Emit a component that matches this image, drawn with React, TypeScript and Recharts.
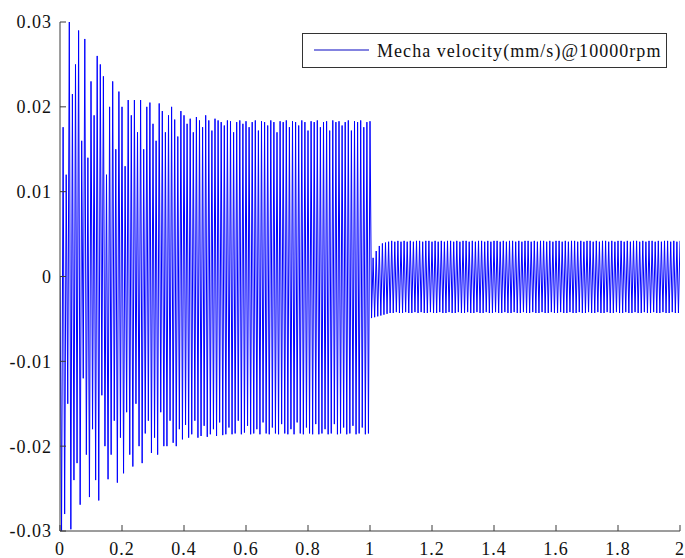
import React from "react";
import { LineChart, Line, XAxis, YAxis, Legend } from "recharts";

// Sample spacing of the recorded signal (s)
const SAMPLE_STEP = 0.005;

// Velocity samples, 0 .. 1.00 s (run-up / loaded section)
const velocityRunUp = [
  0,
  -0.03, 0.0176, -0.028, 0.012, -0.015, 0.03, -0.0298, 0.0215, -0.024, 0.025,
  -0.022, 0.029, -0.0269, 0.016, -0.012, 0.028, -0.021, 0.014, -0.026, 0.023,
  -0.018, 0.019, -0.024, 0.026, -0.0264, 0.025, -0.014, 0.0236, -0.02, 0.012,
  -0.0239, 0.02, -0.021, 0.023, -0.017, 0.015, -0.0243, 0.0218, -0.019, 0.02,
  -0.0232, 0.013, -0.016, 0.0208, -0.021, 0.019, -0.0224, 0.0208, -0.015, 0.017,
  -0.02, 0.0208, -0.022, 0.015, -0.0185, 0.02, -0.017, 0.0205, -0.0208, 0.018,
  -0.019, 0.016, -0.021, 0.0204, -0.016, 0.0195, -0.02, 0.017, -0.02, 0.019,
  -0.017, 0.02, -0.0196, 0.0185, -0.02, 0.0165, -0.018, 0.0195, -0.0192, 0.019,
  -0.0175, 0.018, -0.019, 0.0186, -0.0186, 0.017, -0.017, 0.0188, -0.019, 0.0184,
  -0.0188, 0.0176, -0.0176, 0.019, -0.0189, 0.0184, -0.0186, 0.0172, -0.018, 0.0186,
  -0.0188, 0.0184, -0.0172, 0.0182, -0.0187, 0.0178, -0.0186, 0.0184, -0.0178, 0.0183,
  -0.0186, 0.017, -0.0185, 0.0182, -0.017, 0.0184, -0.0186, 0.018, -0.0184, 0.0183,
  -0.0176, 0.0176, -0.0186, 0.0182, -0.0185, 0.0184, -0.018, 0.0172, -0.0186, 0.0183,
  -0.0172, 0.0182, -0.0185, 0.0178, -0.0186, 0.0184, -0.0178, 0.0182, -0.0185, 0.017,
  -0.0186, 0.0183, -0.0174, 0.0182, -0.0185, 0.0184, -0.0186, 0.0176, -0.018, 0.0183,
  -0.0186, 0.0182, -0.0172, 0.0178, -0.0185, 0.0184, -0.0186, 0.0182, -0.0178, 0.0172,
  -0.0185, 0.0183, -0.0186, 0.0182, -0.0174, 0.0184, -0.0186, 0.0176, -0.0185, 0.0182,
  -0.018, 0.0183, -0.0186, 0.0172, -0.0185, 0.0184, -0.0174, 0.0182, -0.0186, 0.0183,
  -0.0185, 0.0178, -0.0178, 0.0182, -0.0186, 0.0184, -0.0185, 0.0172, -0.0176, 0.0183,
  -0.0186, 0.0182, -0.0185, 0.0184, -0.0178, 0.0176, -0.0186, 0.0182, -0.0185, 0.0183,
];

// Velocity samples, 1.005 .. 2.00 s (steady section)
const velocitySteady = [
  -0.0049, 0.0022, -0.0048, 0.003, -0.0047, 0.0036, -0.0046, 0.0039, -0.0045, 0.004,
  -0.0044, 0.0041, -0.0043, 0.0042, -0.0043, 0.0041, -0.0042, 0.0042, -0.0043, 0.0041,
  -0.0043, 0.0042, -0.0042, 0.0041, -0.0043, 0.0042, -0.0043, 0.0041, -0.0042, 0.0042,
  -0.0043, 0.0042, -0.0042, 0.0041, -0.0043, 0.0042, -0.0043, 0.0042, -0.0042, 0.0041,
  -0.0043, 0.0042, -0.0043, 0.0041, -0.0042, 0.0042, -0.0043, 0.0041, -0.0043, 0.0042,
  -0.0042, 0.0042, -0.0043, 0.0041, -0.0043, 0.0042, -0.0042, 0.0041, -0.0043, 0.0042,
  -0.0043, 0.0042, -0.0042, 0.0041, -0.0043, 0.0042, -0.0043, 0.0041, -0.0042, 0.0042,
  -0.0043, 0.0042, -0.0043, 0.0041, -0.0042, 0.0042, -0.0043, 0.0041, -0.0043, 0.0042,
  -0.0042, 0.0042, -0.0043, 0.0041, -0.0043, 0.0042, -0.0042, 0.0041, -0.0043, 0.0042,
  -0.0043, 0.0042, -0.0042, 0.0041, -0.0043, 0.0042, -0.0043, 0.0041, -0.0042, 0.0042,
  -0.0043, 0.0042, -0.0043, 0.0041, -0.0042, 0.0042, -0.0043, 0.0041, -0.0043, 0.0042,
  -0.0042, 0.0042, -0.0043, 0.0041, -0.0043, 0.0042, -0.0042, 0.0041, -0.0043, 0.0042,
  -0.0043, 0.0042, -0.0042, 0.0041, -0.0043, 0.0042, -0.0043, 0.0041, -0.0042, 0.0042,
  -0.0043, 0.0042, -0.0043, 0.0041, -0.0042, 0.0042, -0.0043, 0.0041, -0.0043, 0.0042,
  -0.0042, 0.0042, -0.0043, 0.0041, -0.0043, 0.0042, -0.0042, 0.0041, -0.0043, 0.0042,
  -0.0043, 0.0042, -0.0042, 0.0041, -0.0043, 0.0042, -0.0043, 0.0041, -0.0042, 0.0042,
  -0.0043, 0.0042, -0.0043, 0.0041, -0.0042, 0.0042, -0.0043, 0.0041, -0.0043, 0.0042,
  -0.0042, 0.0042, -0.0043, 0.0041, -0.0043, 0.0042, -0.0042, 0.0041, -0.0043, 0.0042,
  -0.0043, 0.0042, -0.0042, 0.0041, -0.0043, 0.0042, -0.0043, 0.0041, -0.0042, 0.0042,
  -0.0043, 0.0042, -0.0043, 0.0041, -0.0042, 0.0042, -0.0043, 0.0041, -0.0043, 0.0042,
];

const xTicks = [0, 0.2, 0.4, 0.6, 0.8, 1, 1.2, 1.4, 1.6, 1.8, 2];
const yTicks = [-0.03, -0.02, -0.01, 0, 0.01, 0.02, 0.03];
const seriesName = "Mecha velocity(mm/s)@10000rpm";

const velocity = [...velocityRunUp, ...velocitySteady];
const data = velocity.map((v, i) => ({
  t: Math.round(i * SAMPLE_STEP * 10000) / 10000,
  v,
}));

const SERIF = "'Liberation Serif', 'Times New Roman', serif";
const AXIS = "#3a3a3a";
const tickStyle = {
  fill: "#111",
  fontSize: 18,
  fontFamily: SERIF,
  letterSpacing: 1,
};

const LegendBox = () => (
  <div
    style={{
      width: 363,
      height: 33,
      border: "1px solid #333",
      background: "#fff",
      display: "flex",
      alignItems: "center",
      fontFamily: SERIF,
      fontSize: 18,
      letterSpacing: "1.05px",
      color: "#111",
      boxSizing: "content-box",
    }}
  >
    <svg width={74} height={33} style={{ flex: "none" }}>
      <line x1={11} x2={66} y1={16} y2={16} stroke="#5a5ad6" strokeWidth={1.5} />
    </svg>
    <span style={{ whiteSpace: "nowrap", marginTop: 1 }}>{seriesName}</span>
  </div>
);

export default function App() {
  return (
    <div
      style={{
        position: "absolute",
        left: 0,
        top: 0,
        width: 685,
        height: 558,
        background: "#fff",
      }}
    >
      <LineChart
        width={685}
        height={558}
        data={data}
        margin={{ top: 22, right: 5, bottom: 0, left: 0 }}
      >
        <XAxis
          dataKey="t"
          type="number"
          domain={[0, 2]}
          ticks={xTicks}
          height={27}
          tickSize={-6}
          tickMargin={17}
          stroke={AXIS}
          tick={tickStyle}
          interval={0}
          allowDataOverflow
        />
        <XAxis
          xAxisId="top"
          dataKey="t"
          type="number"
          orientation="top"
          domain={[0, 2]}
          ticks={xTicks}
          height={0}
          tickSize={-6}
          stroke={AXIS}
          tick={false}
          interval={0}
          allowDataOverflow
        />
        <YAxis
          type="number"
          domain={[-0.03, 0.03]}
          ticks={yTicks}
          width={60}
          tickSize={-6}
          tickMargin={14}
          stroke={AXIS}
          tick={tickStyle}
          interval={0}
          allowDataOverflow
        />
        <YAxis
          yAxisId="right"
          type="number"
          orientation="right"
          domain={[-0.03, 0.03]}
          ticks={yTicks}
          width={0}
          tickSize={-6}
          stroke={AXIS}
          tick={false}
          interval={0}
          allowDataOverflow
        />
        <Legend
          layout="vertical"
          align="center"
          verticalAlign="middle"
          wrapperStyle={{ position: "absolute", top: 33, left: 302, width: 365, height: 35 }}
          content={() => <LegendBox />}
        />
        <Line
          type="linear"
          dataKey="v"
          name={seriesName}
          stroke="#0000ff"
          strokeWidth={1}
          dot={false}
          activeDot={false}
          isAnimationActive={false}
        />
      </LineChart>
    </div>
  );
}
